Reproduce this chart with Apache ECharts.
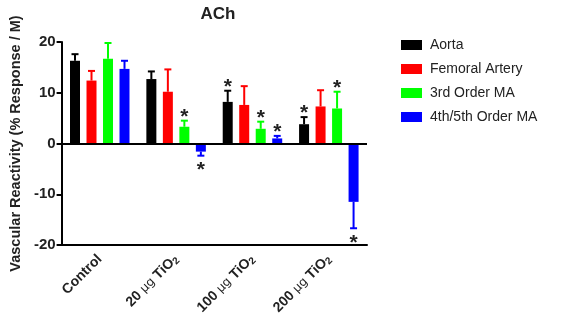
<!DOCTYPE html>
<html>
<head>
<meta charset="utf-8">
<script src="https://cdn.jsdelivr.net/npm/echarts@6/dist/echarts.min.js"></script>
<style>
  html, body { margin: 0; padding: 0; background: #fff; }
  #chart { width: 561px; height: 320px; }
</style>
</head>
<body>
<div id="chart"></div>
<script>
const categories = ['Control', '20 µg TiO2', '100 µg TiO2', '200 µg TiO2']
const seriesNames = ['Aorta', 'Femoral Artery', '3rd Order MA', '4th/5th Order MA']
const colors = ['#000000', '#ff0000', '#00ff00', '#0000ff']

const aorta = [16.3, 12.7, 8.2, 3.8]
const aortaErr = [1.3, 1.5, 2.2, 1.4]
const femoral = [12.4, 10.2, 7.6, 7.3]
const femoralErr = [1.9, 4.4, 3.7, 3.2]
const thirdMA = [16.7, 3.3, 2.9, 6.9]
const thirdErr = [3.1, 1.2, 1.4, 3.3]
const fourthMA = [14.7, -1.6, 1.0, -11.5]
const fourthErr = [1.6, 0.8, 0.5, 5.2]

// 1 = significant (asterisk)
const aortaStar = [0, 0, 1, 1]
const femoralStar = [0, 0, 0, 0]
const thirdStar = [0, 1, 1, 1]
const fourthStar = [0, 1, 1, 1]

const yTicks = [-20, -10, 0, 10, 20]

const values = [aorta, femoral, thirdMA, fourthMA]
const errors = [aortaErr, femoralErr, thirdErr, fourthErr]
const stars = [aortaStar, femoralStar, thirdStar, fourthStar]

const BAR_W = 10
const PITCH = 16.5

const fmtCat = (v) => {
  if (v.indexOf('TiO2') < 0) return '{a|' + v + '}'
  const parts = v.split(' ')
  return '{a|' + parts[0] + ' }{mu|µg}{a| TiO}{sub|2}'
}

const barSeries = values.map((vals, i) => ({
  name: seriesNames[i],
  type: 'bar',
  data: vals,
  barWidth: BAR_W,
  barGap: '65%',
  itemStyle: { color: colors[i] },
  z: 2,
  markLine: i === 0 ? {
    silent: true,
    symbol: 'none',
    label: { show: false },
    lineStyle: { color: '#000', width: 2, type: 'solid' },
    data: [{ yAxis: 0 }],
    animation: false,
  } : undefined,
}))

const errSeries = values.map((vals, i) => ({
  name: seriesNames[i] + ' err',
  type: 'custom',
  z: 3,
  silent: true,
  data: vals.map((v, k) => [k, v, v >= 0 ? v + errors[i][k] : v - errors[i][k], stars[i][k]]),
  renderItem: (params, api) => {
    const k = api.value(0)
    const v = api.value(1)
    const end = api.value(2)
    const star = api.value(3)
    const x = api.coord([k, 0])[0] + (i - 1.5) * PITCH
    const y0 = api.coord([k, v])[1]
    const y1 = api.coord([k, end])[1]
    const style = { stroke: colors[i], lineWidth: 2 }
    const children = [
      { type: 'line', shape: { x1: x, y1: y0, x2: x, y2: y1 }, style },
      { type: 'line', shape: { x1: x - 3.5, y1: y1, x2: x + 3.5, y2: y1 }, style },
    ]
    if (star) {
      const up = v >= 0
      children.push({
        type: 'text',
        style: {
          text: '*',
          x: x,
          y: up ? y1 + 7 : y1 + 25,
          align: 'center',
          verticalAlign: 'bottom',
          font: 'bold 21px Arial',
          fill: '#222',
        },
      })
    }
    return { type: 'group', children }
  },
}))

const chart = echarts.init(document.getElementById('chart'))
chart.setOption({
  animation: false,
  backgroundColor: '#fff',
  title: {
    text: 'ACh',
    left: 213,
    top: 1,
    textAlign: 'center',
    textStyle: { fontFamily: 'Arial', fontWeight: 'bold', fontSize: 17, color: '#222' },
  },
  legend: {
    data: seriesNames,
    orient: 'vertical',
    left: 396,
    top: 33,
    icon: 'rect',
    itemWidth: 21,
    itemHeight: 10,
    itemGap: 10,
    textStyle: { fontFamily: 'Arial', fontSize: 14, color: '#222', padding: [0, 0, 0, 3] },
  },
  grid: { left: 60, right: 194, top: 42, bottom: 75 },
  xAxis: {
    type: 'category',
    data: categories,
    axisLine: { onZero: false, lineStyle: { color: '#000', width: 2 } },
    axisTick: { alignWithLabel: true, length: 5, lineStyle: { color: '#000', width: 2 } },
    axisLabel: {
      rotate: 45,
      margin: 12,
      formatter: fmtCat,
      rich: {
        a: { fontFamily: 'Arial', fontWeight: 'bold', fontSize: 14, color: '#222' },
        mu: { fontFamily: 'DejaVu Sans', fontSize: 12, color: '#222' },
        sub: { fontFamily: 'Arial', fontWeight: 'bold', fontSize: 10, color: '#222', verticalAlign: 'bottom', padding: [6, 0, 0, 0] },
      },
    },
  },
  yAxis: {
    type: 'value',
    min: yTicks[0],
    max: yTicks[yTicks.length - 1],
    interval: 10,
    name: 'Vascular Reactivity (% Response / M)',
    nameLocation: 'middle',
    nameGap: 38,
    nameTextStyle: { fontFamily: 'Arial', fontWeight: 'bold', fontSize: 14.5, color: '#222' },
    splitLine: { show: false },
    axisLine: { show: true, lineStyle: { color: '#000', width: 2 } },
    axisTick: { show: true, length: 5, lineStyle: { color: '#000', width: 2 } },
    axisLabel: { fontFamily: 'Arial', fontWeight: 'bold', fontSize: 15, color: '#222', margin: 6 },
  },
  series: [...barSeries, ...errSeries],
})
</script>
</body>
</html>
